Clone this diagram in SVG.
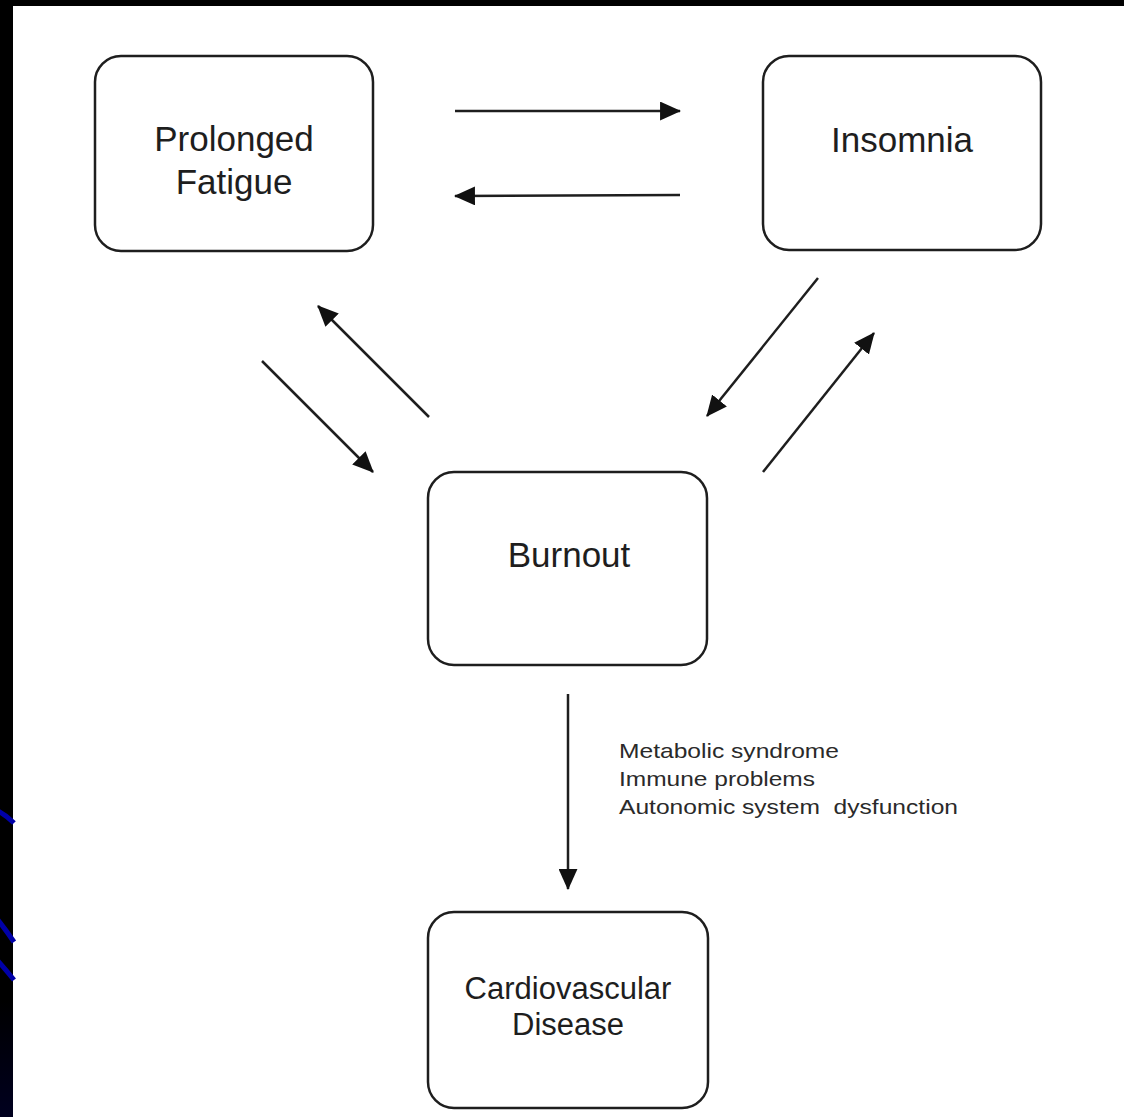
<svg xmlns="http://www.w3.org/2000/svg" width="1124" height="1117" viewBox="0 0 1124 1117">
<defs>
<style>
.box{fill:#fff;stroke:#1e1e1e;stroke-width:2.5}
.big{font-family:"Liberation Sans",Arial,sans-serif;font-size:35px;fill:#1e1e1e;text-anchor:middle}
.mid{font-size:31px}
.small{font-family:"Liberation Sans",Arial,sans-serif;font-size:21px;fill:#2a2a2a}
.conn{stroke:#1e1e1e;stroke-width:2.5;fill:none;marker-end:url(#ah)}
.tmpl{stroke:#0000a8;stroke-width:5;fill:none}
</style>
<marker id="ah" viewBox="0 0 20 18" refX="19" refY="9" markerWidth="21" markerHeight="19" markerUnits="userSpaceOnUse" orient="auto">
<path d="M0,0 L20,9 L0,18 Z" fill="#111"/>
</marker>
<linearGradient id="navy" x1="0" y1="0" x2="0" y2="1">
<stop offset="0" stop-color="#000000"/>
<stop offset="1" stop-color="#00001f"/>
</linearGradient>
</defs>
<rect x="0" y="0" width="1124" height="1117" fill="#fff"/>
<g id="template">
<rect x="0" y="0" width="1124" height="6" fill="#000"/>
<rect x="0" y="0" width="13" height="1117" fill="#000"/>
<rect x="0" y="1000" width="13" height="117" fill="url(#navy)"/>
<path class="tmpl" d="M-2,811 Q6,815 14,823"/>
<path class="tmpl" d="M-2,920 Q6,930 14,942"/>
<path class="tmpl" d="M-2,961 Q6,970 14,980"/>
</g>
<g id="connectors">
<line class="conn" x1="455" y1="111" x2="680" y2="111"/>
<line class="conn" x1="680" y1="195" x2="455" y2="196"/>
<line class="conn" x1="429" y1="417" x2="318" y2="306"/>
<line class="conn" x1="262" y1="361" x2="373" y2="472"/>
<line class="conn" x1="818" y1="278" x2="707" y2="416"/>
<line class="conn" x1="763" y1="472" x2="874" y2="333"/>
<line class="conn" x1="568" y1="694" x2="568" y2="889"/>
<g id="label-burnout-cvd">
<text class="small" x="619" y="758" textLength="220" lengthAdjust="spacingAndGlyphs">Metabolic syndrome</text>
<text class="small" x="619" y="786" textLength="196" lengthAdjust="spacingAndGlyphs">Immune problems</text>
<text class="small" x="619" y="814" textLength="339" lengthAdjust="spacingAndGlyphs" xml:space="preserve">Autonomic system  dysfunction</text>
</g>
</g>
<g id="prolonged-fatigue">
<rect class="box" x="95" y="56" width="278" height="195" rx="26"/>
<text class="big" x="234" y="151">Prolonged</text>
<text class="big" x="234" y="194">Fatigue</text>
</g>
<g id="insomnia">
<rect class="box" x="763" y="56" width="278" height="194" rx="26"/>
<text class="big" x="902" y="152">Insomnia</text>
</g>
<g id="burnout">
<rect class="box" x="428" y="472" width="279" height="193" rx="26"/>
<text class="big" x="569" y="567">Burnout</text>
</g>
<g id="cardiovascular-disease">
<rect class="box" x="428" y="912" width="280" height="196" rx="26"/>
<text class="big mid" x="568" y="999">Cardiovascular</text>
<text class="big mid" x="568" y="1035">Disease</text>
</g>
</svg>
